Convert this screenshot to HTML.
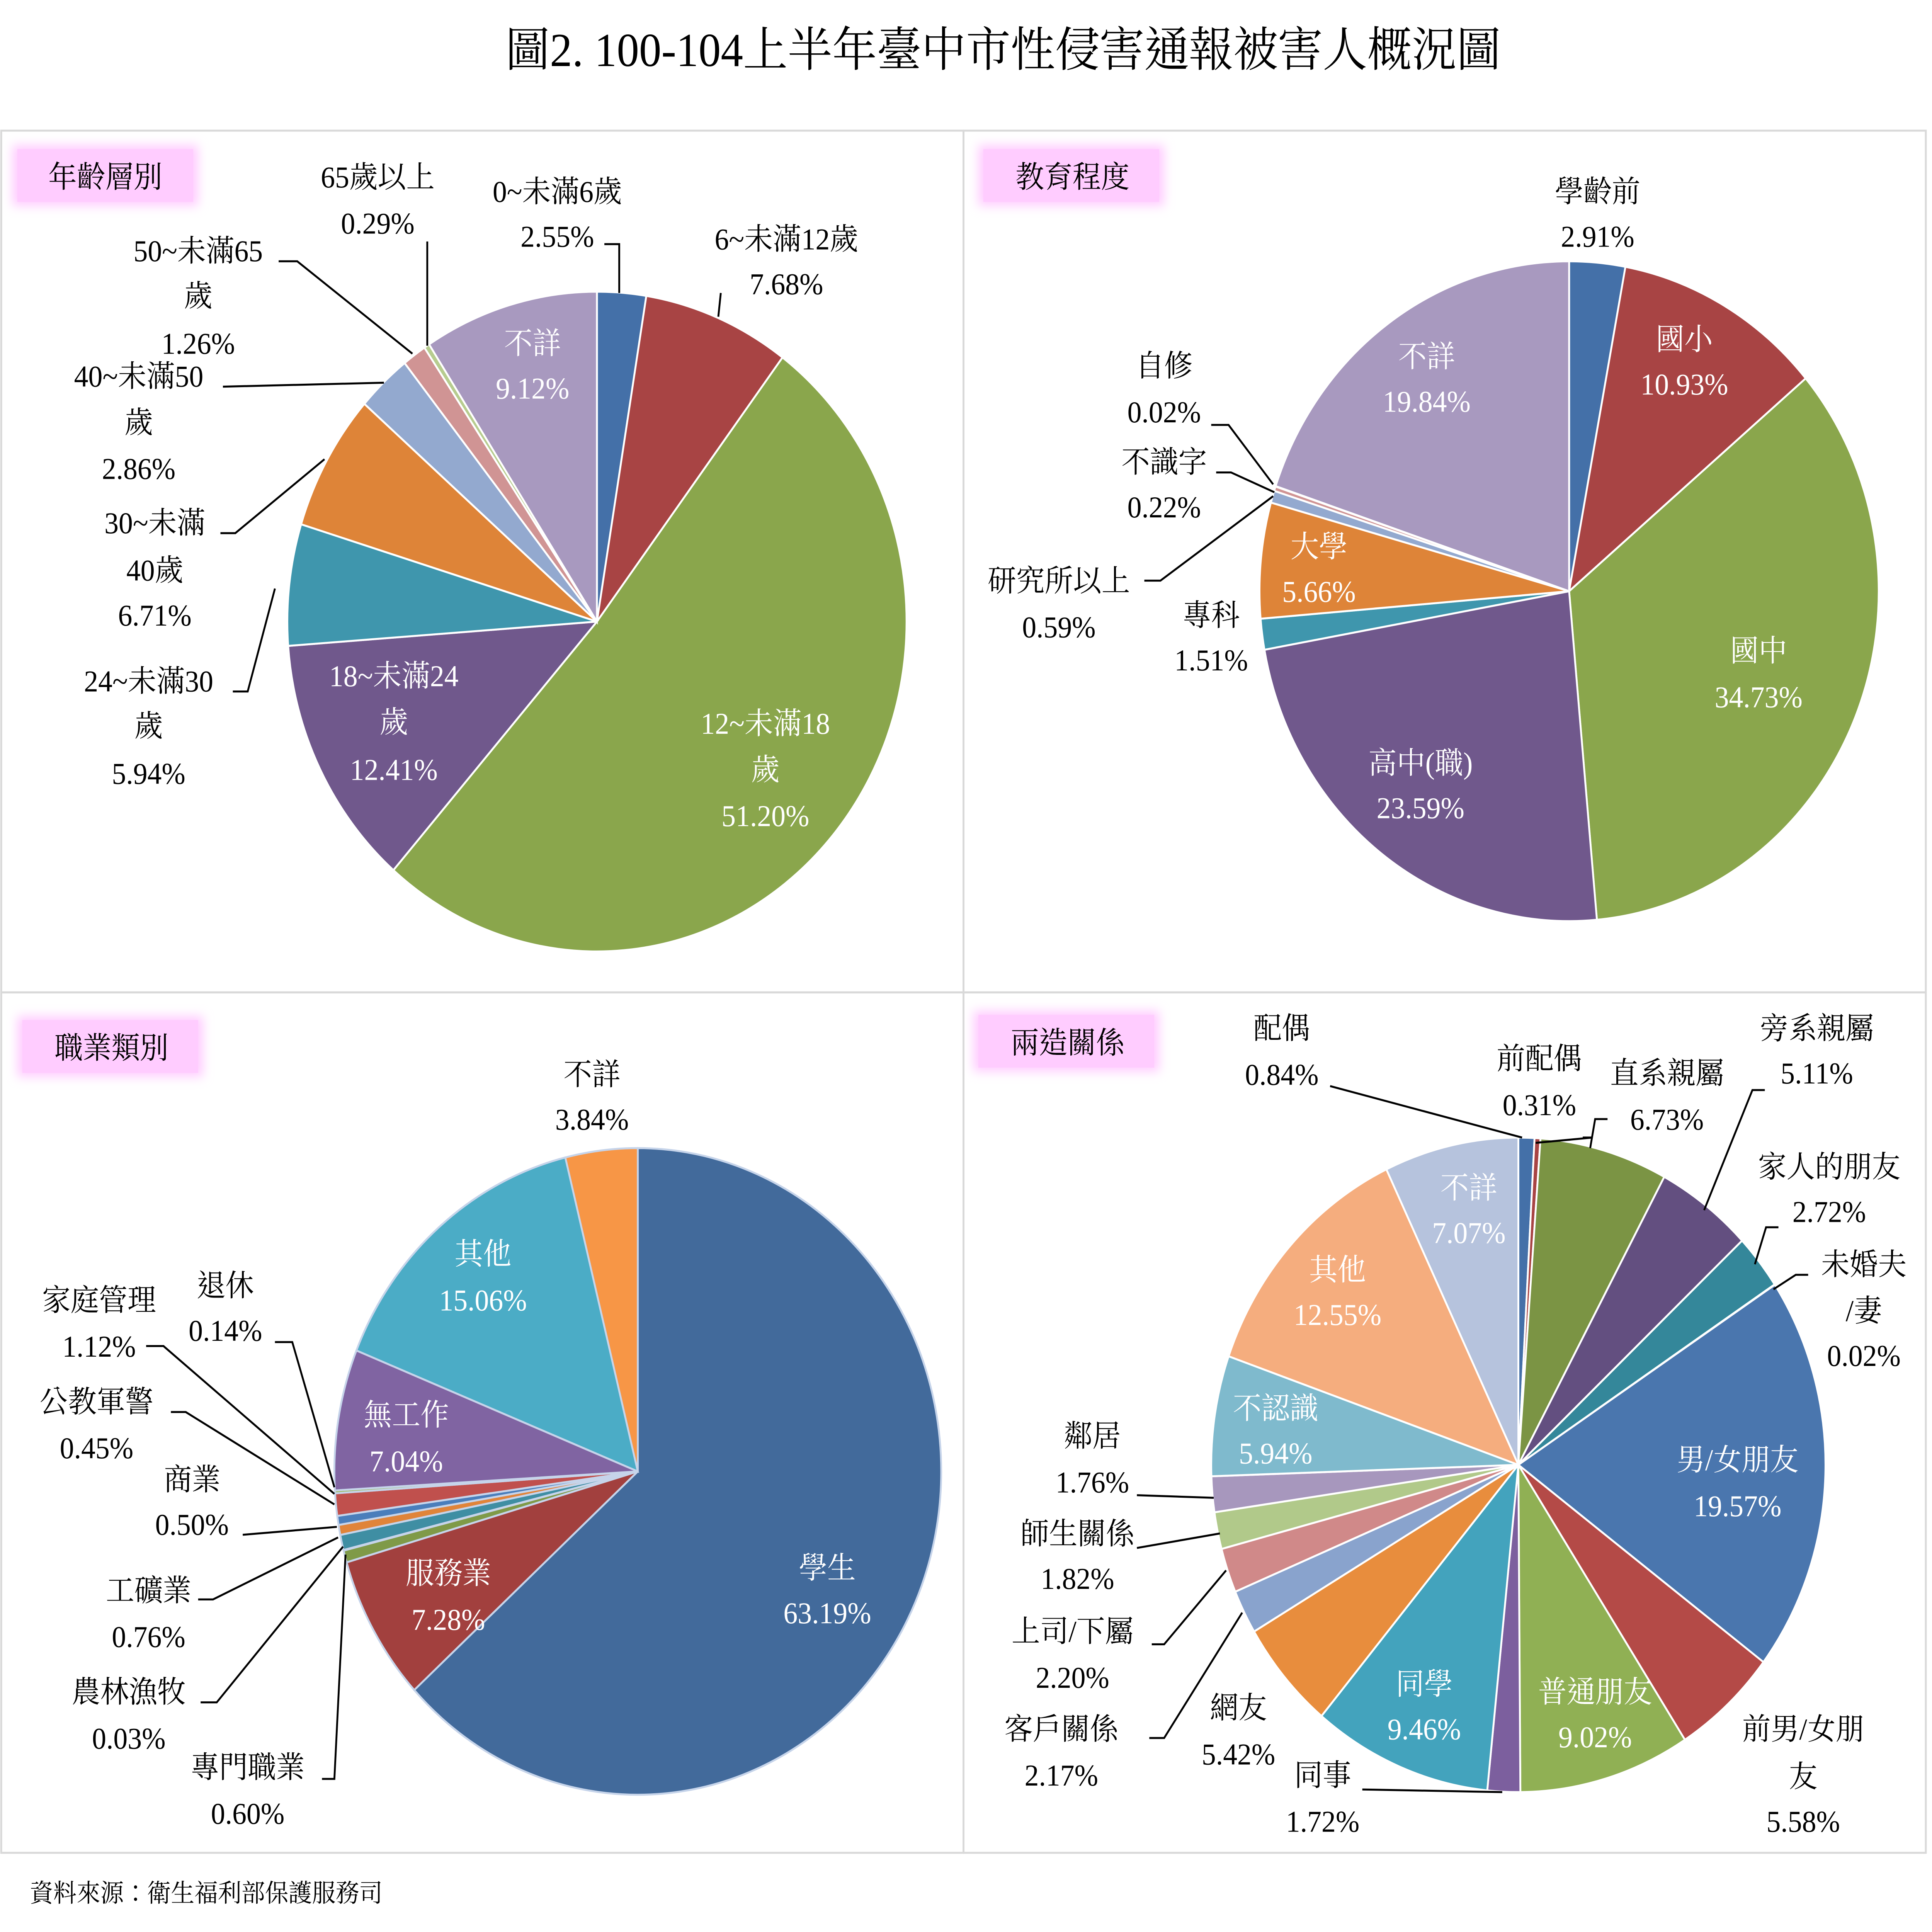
<!DOCTYPE html>
<html><head><meta charset="utf-8">
<style>
html,body{margin:0;padding:0;background:#fff;width:100%;height:100%;overflow:hidden;}
#wrap{position:absolute;left:0;top:0;width:1560px;height:1464px;transform:scale(3.19,3.19);transform-origin:0 0;}
svg{display:block;}
text{font-family:"Liberation Serif","Noto Serif CJK TC","Noto Sans CJK TC",serif;font-size:23px;fill:#000;}
.w{fill:#fff;}
.t{font-size:36px;}
.s{font-size:19px;}
</style></head>
<body>
<div id="wrap">
<svg id="s" width="1560" height="1464" viewBox="0 0 1560 1464" xmlns="http://www.w3.org/2000/svg">
<defs>
<filter id="glow" x="-20%" y="-40%" width="140%" height="180%"><feGaussianBlur stdDeviation="4"/></filter>
</defs>
<rect width="1560" height="1464" fill="#fff"/>
<text class="t" x="810" y="50" text-anchor="middle">圖2. 100-104上半年臺中市性侵害通報被害人概況圖</text>
<g fill="none" stroke="#d9d9d9" stroke-width="1.5">
<rect x="1" y="99" width="777" height="653"/>
<rect x="778" y="99" width="777" height="653"/>
<rect x="1" y="752" width="777" height="652"/>
<rect x="778" y="752" width="777" height="652"/>
</g>
<g>
<rect x="10" y="110" width="150" height="46" fill="#ffccff" filter="url(#glow)"/>
<rect x="14" y="113" width="142" height="40" fill="#ffccff"/>
<text x="85" y="142" text-anchor="middle">年齡層別</text>
<rect x="790" y="110" width="150" height="46" fill="#ffccff" filter="url(#glow)"/>
<rect x="794" y="113" width="142" height="40" fill="#ffccff"/>
<text x="866" y="142" text-anchor="middle">教育程度</text>
<rect x="14" y="770" width="150" height="46" fill="#ffccff" filter="url(#glow)"/>
<rect x="18" y="773" width="142" height="40" fill="#ffccff"/>
<text x="90" y="802" text-anchor="middle">職業類別</text>
<rect x="786" y="766" width="150" height="46" fill="#ffccff" filter="url(#glow)"/>
<rect x="790" y="769" width="142" height="40" fill="#ffccff"/>
<text x="862" y="798" text-anchor="middle">兩造關係</text>
</g>
<g id="pies"></g>
<g fill="none" stroke="#000" stroke-width="1.5">
<polyline points="488,185 500,185 500,222"/>
<polyline points="580,240 582,222"/>
<polyline points="345,183 345,262"/>
<polyline points="225,198 240,198 333,268"/>
<polyline points="180,293 310,290"/>
<polyline points="178,404 190,404 262,348"/>
<polyline points="188,524 200,524 222,446"/>
<polyline points="978,322 992,322 1028,367"/>
<polyline points="982,358 994,358 1029,373"/>
<polyline points="924,440 937,440 1028,376"/>
<polyline points="222,1017 236,1017 270,1127"/>
<polyline points="118,1020 132,1020 270,1132"/>
<polyline points="138,1070 150,1070 270,1140"/>
<polyline points="196,1163 272,1157"/>
<polyline points="160,1212 172,1212 273,1165"/>
<polyline points="162,1290 175,1290 277,1172"/>
<polyline points="260,1348 270,1348 279,1178"/>
<polyline points="1074,823 1229,862"/>
<polyline points="1278,862 1286,862 1240,866"/>
<polyline points="1298,848 1288,848 1284,870"/>
<polyline points="1425,826 1415,826 1376,917"/>
<polyline points="1436,930 1426,930 1417,958"/>
<polyline points="1460,966 1450,966 1432,977"/>
<polyline points="918,1133 980,1135"/>
<polyline points="918,1173 985,1162"/>
<polyline points="930,1246 940,1246 990,1190"/>
<polyline points="928,1317 940,1317 1003,1222"/>
<polyline points="1100,1356 1213,1358"/>
</g>
<text x="450" y="153" text-anchor="middle">0~未滿6歲</text>
<text x="450" y="187" text-anchor="middle">2.55%</text>
<text x="635" y="189" text-anchor="middle">6~未滿12歲</text>
<text x="635" y="223" text-anchor="middle">7.68%</text>
<text x="305" y="142" text-anchor="middle">65歲以上</text>
<text x="305" y="177" text-anchor="middle">0.29%</text>
<text x="160" y="198" text-anchor="middle">50~未滿65</text>
<text x="160" y="232" text-anchor="middle">歲</text>
<text x="160" y="268" text-anchor="middle">1.26%</text>
<text x="112" y="293" text-anchor="middle">40~未滿50</text>
<text x="112" y="328" text-anchor="middle">歲</text>
<text x="112" y="363" text-anchor="middle">2.86%</text>
<text x="125" y="404" text-anchor="middle">30~未滿</text>
<text x="125" y="440" text-anchor="middle">40歲</text>
<text x="125" y="474" text-anchor="middle">6.71%</text>
<text x="120" y="524" text-anchor="middle">24~未滿30</text>
<text x="120" y="558" text-anchor="middle">歲</text>
<text x="120" y="594" text-anchor="middle">5.94%</text>
<text class="w" x="430" y="268" text-anchor="middle">不詳</text>
<text class="w" x="430" y="302" text-anchor="middle">9.12%</text>
<text class="w" x="318" y="520" text-anchor="middle">18~未滿24</text>
<text class="w" x="318" y="555" text-anchor="middle">歲</text>
<text class="w" x="318" y="591" text-anchor="middle">12.41%</text>
<text class="w" x="618" y="556" text-anchor="middle">12~未滿18</text>
<text class="w" x="618" y="591" text-anchor="middle">歲</text>
<text class="w" x="618" y="626" text-anchor="middle">51.20%</text>
<text x="1290" y="153" text-anchor="middle">學齡前</text>
<text x="1290" y="187" text-anchor="middle">2.91%</text>
<text class="w" x="1360" y="265" text-anchor="middle">國小</text>
<text class="w" x="1360" y="299" text-anchor="middle">10.93%</text>
<text class="w" x="1420" y="501" text-anchor="middle">國中</text>
<text class="w" x="1420" y="536" text-anchor="middle">34.73%</text>
<text class="w" x="1147" y="586" text-anchor="middle">高中(職)</text>
<text class="w" x="1147" y="620" text-anchor="middle">23.59%</text>
<text class="w" x="1152" y="278" text-anchor="middle">不詳</text>
<text class="w" x="1152" y="312" text-anchor="middle">19.84%</text>
<text class="w" x="1065" y="422" text-anchor="middle">大學</text>
<text class="w" x="1065" y="456" text-anchor="middle">5.66%</text>
<text x="940" y="285" text-anchor="middle">自修</text>
<text x="940" y="320" text-anchor="middle">0.02%</text>
<text x="940" y="358" text-anchor="middle">不識字</text>
<text x="940" y="392" text-anchor="middle">0.22%</text>
<text x="855" y="448" text-anchor="middle">研究所以上</text>
<text x="855" y="483" text-anchor="middle">0.59%</text>
<text x="978" y="474" text-anchor="middle">專科</text>
<text x="978" y="508" text-anchor="middle">1.51%</text>
<text x="478" y="822" text-anchor="middle">不詳</text>
<text x="478" y="856" text-anchor="middle">3.84%</text>
<text class="w" x="390" y="958" text-anchor="middle">其他</text>
<text class="w" x="390" y="993" text-anchor="middle">15.06%</text>
<text class="w" x="328" y="1080" text-anchor="middle">無工作</text>
<text class="w" x="328" y="1115" text-anchor="middle">7.04%</text>
<text class="w" x="362" y="1200" text-anchor="middle">服務業</text>
<text class="w" x="362" y="1235" text-anchor="middle">7.28%</text>
<text class="w" x="668" y="1196" text-anchor="middle">學生</text>
<text class="w" x="668" y="1230" text-anchor="middle">63.19%</text>
<text x="182" y="982" text-anchor="middle">退休</text>
<text x="182" y="1016" text-anchor="middle">0.14%</text>
<text x="80" y="993" text-anchor="middle">家庭管理</text>
<text x="80" y="1028" text-anchor="middle">1.12%</text>
<text x="78" y="1070" text-anchor="middle">公教軍警</text>
<text x="78" y="1105" text-anchor="middle">0.45%</text>
<text x="155" y="1129" text-anchor="middle">商業</text>
<text x="155" y="1163" text-anchor="middle">0.50%</text>
<text x="120" y="1213" text-anchor="middle">工礦業</text>
<text x="120" y="1248" text-anchor="middle">0.76%</text>
<text x="104" y="1290" text-anchor="middle">農林漁牧</text>
<text x="104" y="1325" text-anchor="middle">0.03%</text>
<text x="200" y="1347" text-anchor="middle">專門職業</text>
<text x="200" y="1382" text-anchor="middle">0.60%</text>
<text x="1035" y="787" text-anchor="middle">配偶</text>
<text x="1035" y="822" text-anchor="middle">0.84%</text>
<text x="1243" y="810" text-anchor="middle">前配偶</text>
<text x="1243" y="845" text-anchor="middle">0.31%</text>
<text x="1346" y="821" text-anchor="middle">直系親屬</text>
<text x="1346" y="856" text-anchor="middle">6.73%</text>
<text x="1467" y="787" text-anchor="middle">旁系親屬</text>
<text x="1467" y="821" text-anchor="middle">5.11%</text>
<text x="1477" y="892" text-anchor="middle">家人的朋友</text>
<text x="1477" y="926" text-anchor="middle">2.72%</text>
<text x="1505" y="966" text-anchor="middle">未婚夫</text>
<text x="1505" y="1001" text-anchor="middle">/妻</text>
<text x="1505" y="1035" text-anchor="middle">0.02%</text>
<text class="w" x="1403" y="1114" text-anchor="middle">男/女朋友</text>
<text class="w" x="1403" y="1149" text-anchor="middle">19.57%</text>
<text x="1456" y="1318" text-anchor="middle">前男/女朋</text>
<text x="1456" y="1354" text-anchor="middle">友</text>
<text x="1456" y="1388" text-anchor="middle">5.58%</text>
<text class="w" x="1288" y="1290" text-anchor="middle">普通朋友</text>
<text class="w" x="1288" y="1324" text-anchor="middle">9.02%</text>
<text x="1068" y="1353" text-anchor="middle">同事</text>
<text x="1068" y="1388" text-anchor="middle">1.72%</text>
<text class="w" x="1150" y="1284" text-anchor="middle">同學</text>
<text class="w" x="1150" y="1318" text-anchor="middle">9.46%</text>
<text x="1000" y="1302" text-anchor="middle">網友</text>
<text x="1000" y="1337" text-anchor="middle">5.42%</text>
<text x="857" y="1318" text-anchor="middle">客戶關係</text>
<text x="857" y="1353" text-anchor="middle">2.17%</text>
<text x="866" y="1244" text-anchor="middle">上司/下屬</text>
<text x="866" y="1279" text-anchor="middle">2.20%</text>
<text x="870" y="1170" text-anchor="middle">師生關係</text>
<text x="870" y="1204" text-anchor="middle">1.82%</text>
<text x="882" y="1096" text-anchor="middle">鄰居</text>
<text x="882" y="1131" text-anchor="middle">1.76%</text>
<text class="w" x="1030" y="1075" text-anchor="middle">不認識</text>
<text class="w" x="1030" y="1109" text-anchor="middle">5.94%</text>
<text class="w" x="1080" y="970" text-anchor="middle">其他</text>
<text class="w" x="1080" y="1004" text-anchor="middle">12.55%</text>
<text class="w" x="1186" y="908" text-anchor="middle">不詳</text>
<text class="w" x="1186" y="942" text-anchor="middle">7.07%</text>
<text class="s" x="24" y="1441">資料來源：衛生福利部保護服務司</text>
</svg>
</div>
<script>
(function(){
var w=window.innerWidth,h=window.innerHeight;
if(w>500&&h>500){document.getElementById("wrap").style.transform="scale("+(w/1560)+","+(h/1464)+")";}
var ns="http://www.w3.org/2000/svg",g=document.getElementById("pies");
function pie(cx,cy,r,data,stroke){
 var tot=0;data.forEach(function(d){tot+=d[0];});
 var a=0;
 data.forEach(function(d){
  var a0=a/tot*2*Math.PI,a1=(a+d[0])/tot*2*Math.PI;a+=d[0];
  var x0=cx+r*Math.sin(a0),y0=cy-r*Math.cos(a0),x1=cx+r*Math.sin(a1),y1=cy-r*Math.cos(a1);
  var p=document.createElementNS(ns,"path");
  p.setAttribute("d","M"+cx+","+cy+"L"+x0+","+y0+"A"+r+","+r+" 0 "+((a1-a0)>Math.PI?1:0)+" 1 "+x1+","+y1+"Z");
  p.setAttribute("fill",d[1]);p.setAttribute("stroke",stroke);p.setAttribute("stroke-width","1.5");
  g.appendChild(p);
 });
}
pie(482,471,250,[[2.55,"#4470a8"],[7.68,"#a84444"],[51.20,"#8aa64c"],[12.41,"#70588c"],[5.94,"#3f96ad"],[6.71,"#de8438"],[2.86,"#93a9cf"],[1.26,"#d09494"],[0.29,"#b7cc8f"],[9.12,"#a899bf"]],"#fff");
pie(1267,448,250,[[2.91,"#4470a8"],[10.93,"#a84444"],[34.73,"#8aa64c"],[23.59,"#70588c"],[1.51,"#3f96ad"],[5.66,"#de8438"],[0.59,"#93a9cf"],[0.22,"#d09494"],[0.02,"#b7cc8f"],[19.84,"#a899bf"]],"#fff");
pie(515,1115,245,[[63.19,"#426a9b"],[7.28,"#a2403e"],[0.60,"#7f9a48"],[0.03,"#5e4b7e"],[0.76,"#3f8ea3"],[0.50,"#e0843a"],[0.45,"#4a7ebb"],[1.12,"#c0504d"],[0.14,"#9bbb59"],[7.04,"#8064a2"],[15.06,"#4bacc6"],[3.84,"#f79646"]],"#c6d4ea");
pie(1226,1110,248,[[0.84,"#4470a8"],[0.31,"#a84444"],[6.73,"#7b9444"],[5.11,"#634f80"],[2.72,"#34879a"],[0.02,"#d7833c"],[19.57,"#4a76ae"],[5.58,"#b44a47"],[9.02,"#90b054"],[1.72,"#7c5f9e"],[9.46,"#43a3bd"],[5.42,"#e88d3d"],[2.17,"#89a3cd"],[2.20,"#d08989"],[1.82,"#b1c98a"],[1.76,"#a797bd"],[5.94,"#7fbacd"],[12.55,"#f5ad7e"],[7.07,"#b6c3dd"]],"#fff");
})();
</script>
</body></html>
